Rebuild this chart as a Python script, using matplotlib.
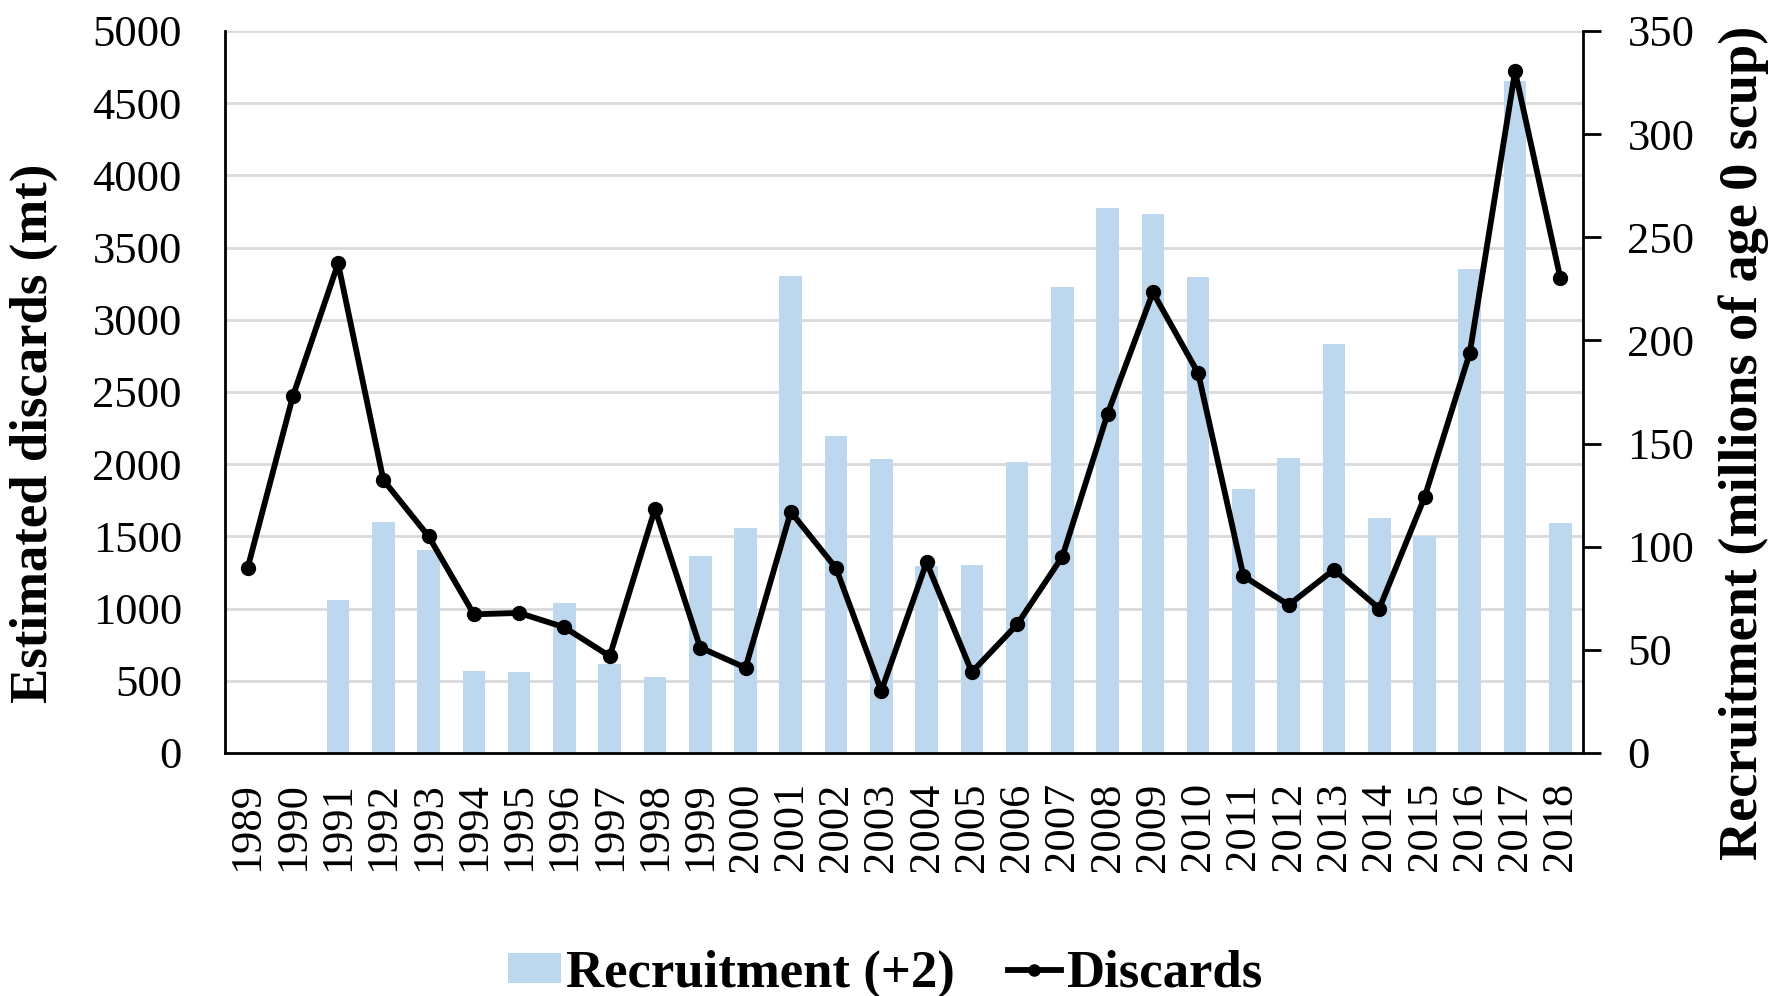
import numpy as np
import matplotlib
matplotlib.use('Agg')
import matplotlib.pyplot as plt
from matplotlib.patches import Patch
from matplotlib.lines import Line2D

plt.rcParams['font.family'] = ['Liberation Serif', 'DejaVu Serif']

# Data
years = [str(y) for y in range(1989, 2019)]
recruitment = [np.nan, np.nan, 74.3, 112, 98.5, 39.6, 39.1, 72.9, 43, 36.9,
               95.6, 109.3, 231, 153.5, 142.4, 90.8, 91.2, 141.2, 225.7, 264,
               261.4, 230.5, 127.9, 142.9, 198.2, 113.7, 105.2, 234.4, 325.8, 111.3]
discards = [1280, 2470, 3390, 1890, 1500, 960, 970, 870, 670, 1690,
            730, 590, 1670, 1280, 430, 1320, 560, 890, 1360, 2350,
            3190, 2630, 1225, 1025, 1270, 1000, 1770, 2770, 4720, 3290]

bar_color = '#BDD7EE'
x = np.arange(len(years))

fig = plt.figure(figsize=(17.81, 9.96), dpi=100)
ax = fig.add_axes([0.1263, 0.2440, 0.7625, 0.7249])
ax2 = ax.twinx()

# bars on the right axis, drawn behind the line
ax2.bar(x, recruitment, width=0.5, color=bar_color, zorder=1)
ax2.set_ylim(0, 350)
ax2.set_yticks(range(0, 351, 50))

ax.set_zorder(ax2.get_zorder() + 1)
ax.patch.set_visible(False)
ax.plot(x, discards, color='black', lw=4.2, marker='o', ms=10, zorder=3)
ax.set_ylim(0, 5000)
ax.set_yticks(range(0, 5001, 500))
ax.set_xlim(-0.5, len(years) - 0.5)
ax.set_xticks(x)
ax.set_xticklabels(years, rotation=90)

# gridlines belong to the left scale but sit behind the bars
for v in range(500, 5001, 500):
    ax2.axhline(v * 350 / 5000, color='#d9d9d9', lw=2, zorder=0)

for a in (ax, ax2):
    a.spines['top'].set_visible(False)
ax.spines['right'].set_visible(False)
ax2.spines['left'].set_visible(False)
ax2.spines['bottom'].set_visible(False)
ax.spines['left'].set_linewidth(2)
ax.spines['bottom'].set_linewidth(2)
ax2.spines['right'].set_linewidth(2)

ax.tick_params(axis='y', length=0, labelsize=32, pad=31)
ax.tick_params(axis='x', length=0, labelsize=32, pad=21)
ax2.tick_params(axis='y', direction='out', length=13, width=2, labelsize=32, pad=19)

ax.set_ylabel('Estimated discards (mt)', fontsize=38, fontweight='bold', va='center')
ax.yaxis.set_label_coords(-0.1406, 0.443)
ax2.set_ylabel('Recruitment (millions of age 0 scup)', fontsize=39, fontweight='bold',
               va='center', rotation=90)
ax2.yaxis.set_label_coords(1.118, 0.43)

handles = [Patch(facecolor=bar_color, edgecolor='none'),
           Line2D([0], [0], color='black', lw=4.2, marker='o', ms=8)]
fig.legend(handles, ['Recruitment (+2)', 'Discards'], loc='center',
           bbox_to_anchor=(0.497, 0.022), ncol=2, frameon=False,
           prop={'size': 38, 'weight': 'bold'}, handlelength=1.0,
           handleheight=0.5, handletextpad=0.1, columnspacing=1.0)

fig.savefig('out.png', dpi=100)
